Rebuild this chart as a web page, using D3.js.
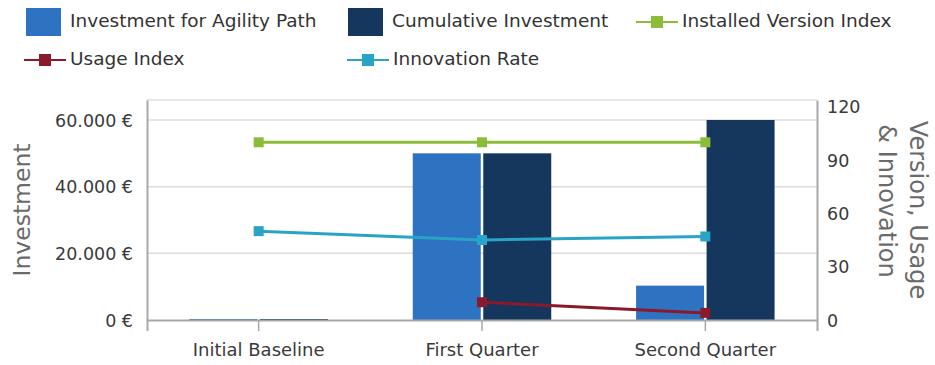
<!DOCTYPE html>
<html>
<head>
<meta charset="utf-8">
<script src="https://cdn.jsdelivr.net/npm/d3@7"></script>
<style>
  html, body { margin: 0; padding: 0; background: #fff; }
  svg { display: block; font-family: "DejaVu Sans", Verdana, sans-serif; }
</style>
</head>
<body>
<svg id="chart" width="935" height="365"></svg>
<script>
// Quarterly investment and index data
const categories = ["Initial Baseline", "First Quarter", "Second Quarter"];
const investmentAgility = [300, 50000, 10300];
const cumulativeInvestment = [300, 50000, 60000];
const installedVersionIndex = [100, 100, 100];
const usageIndex = [null, 10, 4];
const innovationRate = [50, 45, 47];
const leftTicks = [0, 20000, 40000, 60000];
const rightTicks = [0, 30, 60, 90, 120];

const colors = {
  agility: "#2e72c2",
  cumulative: "#15375e",
  version: "#8cbd3a",
  usage: "#8a1a2b",
  innovation: "#2aa4c6"
};

const svg = d3.select("#chart");
const margin = { left: 147, right: 118, top: 100, bottom: 45 };
const W = 935, H = 365;
const x0 = margin.left, x1 = W - margin.right;
const yBottom = H - margin.bottom, yTop = margin.top;

const x = d3.scaleBand().domain(categories).range([x0, x1]).padding(0);
const yL = d3.scaleLinear().domain([0, 66000]).range([yBottom, yTop]);
const yR = d3.scaleLinear().domain([0, 123.8]).range([yBottom, yTop]);

const euro = d => d3.format(",")(d).replace(/,/g, ".") + " €";

// gridlines
svg.append("g")
  .selectAll("line")
  .data(leftTicks.filter(t => t > 0))
  .join("line")
  .attr("x1", x0).attr("x2", x1)
  .attr("y1", d => yL(d)).attr("y2", d => yL(d))
  .attr("stroke", "#dcdcdc").attr("stroke-width", 1.5);

// top border
svg.append("line")
  .attr("x1", x0).attr("x2", x1).attr("y1", yTop).attr("y2", yTop)
  .attr("stroke", "#dedede").attr("stroke-width", 1.5);

// bars
const barW = 68, gap = 2.5;
const barGroups = svg.append("g");
categories.forEach((c, i) => {
  const cx = x(c) + x.bandwidth() / 2;
  barGroups.append("rect")
    .attr("x", cx - gap / 2 - barW)
    .attr("y", yL(investmentAgility[i]))
    .attr("width", barW)
    .attr("height", yL(0) - yL(investmentAgility[i]))
    .attr("fill", colors.agility);
  barGroups.append("rect")
    .attr("x", cx + gap / 2)
    .attr("y", yL(cumulativeInvestment[i]))
    .attr("width", barW)
    .attr("height", yL(0) - yL(cumulativeInvestment[i]))
    .attr("fill", colors.cumulative);
});

// axes
const axisColor = "#a8a8a8";
const textColor = "#3a3a3a";

const gL = svg.append("g").attr("transform", `translate(${x0},0)`)
  .call(d3.axisLeft(yL).tickValues(leftTicks).tickFormat(euro).tickSize(0).tickPadding(14));
const gR = svg.append("g").attr("transform", `translate(${x1},0)`)
  .call(d3.axisRight(yR).tickValues(rightTicks).tickSize(0).tickPadding(10));
const gB = svg.append("g").attr("transform", `translate(0,${yBottom})`)
  .call(d3.axisBottom(x).tickSize(11).tickPadding(14));

[gL, gR, gB].forEach(g => {
  g.select(".domain").attr("stroke", axisColor).attr("stroke-width", 2);
  g.selectAll(".tick line").attr("stroke", axisColor).attr("stroke-width", 1.5);
  g.selectAll(".tick text").attr("fill", textColor).style("font-size", "17.5px")
    .style("font-family", "'DejaVu Sans', Verdana, sans-serif");
});
gB.selectAll(".tick text").style("font-size", "18px").attr("dy", "0.6em");
gR.selectAll(".tick text").attr("dy", null).attr("dominant-baseline", "middle").attr("y", 1);
gL.selectAll(".tick text").attr("dy", null).attr("dominant-baseline", "middle").attr("y", 1);

// axis titles
svg.append("text")
  .attr("transform", `translate(30,${(yTop + yBottom) / 2}) rotate(-90)`)
  .attr("text-anchor", "middle")
  .attr("fill", "#6a6a6a").style("font-size", "23.5px")
  .text("Investment");
svg.append("text")
  .attr("transform", `translate(910,${(yTop + yBottom) / 2}) rotate(90)`)
  .attr("text-anchor", "middle")
  .attr("fill", "#6a6a6a").style("font-size", "24px")
  .text("Version, Usage");
svg.append("text")
  .attr("transform", `translate(879,${(yTop + yBottom) / 2 - 9}) rotate(90)`)
  .attr("text-anchor", "middle")
  .attr("fill", "#6a6a6a").style("font-size", "24px")
  .text("& Innovation");

// lines
const lineSeries = [
  { name: "Installed Version Index", values: installedVersionIndex, color: colors.version },
  { name: "Innovation Rate", values: innovationRate, color: colors.innovation },
  { name: "Usage Index", values: usageIndex, color: colors.usage }
];
const line = d3.line()
  .defined(d => d.v !== null)
  .x(d => x(d.c) + x.bandwidth() / 2)
  .y(d => yR(d.v));
lineSeries.forEach(s => {
  const pts = categories.map((c, i) => ({ c, v: s.values[i] }));
  svg.append("path")
    .datum(pts)
    .attr("d", line)
    .attr("fill", "none")
    .attr("stroke", s.color)
    .attr("stroke-width", 3);
  svg.append("g").selectAll("rect")
    .data(pts.filter(d => d.v !== null))
    .join("rect")
    .attr("x", d => x(d.c) + x.bandwidth() / 2 - 5)
    .attr("y", d => yR(d.v) - 5)
    .attr("width", 10).attr("height", 10)
    .attr("fill", s.color);
});

// legend
const legend = svg.append("g").style("font-size", "18.5px").attr("fill", "#333");
const legendItems = [
  { type: "box", label: "Investment for Agility Path", color: colors.agility, x: 26, y: 22 },
  { type: "box", label: "Cumulative Investment", color: colors.cumulative, x: 348, y: 22 },
  { type: "line", label: "Installed Version Index", color: colors.version, x: 636, y: 22 },
  { type: "line", label: "Usage Index", color: colors.usage, x: 24, y: 60 },
  { type: "line", label: "Innovation Rate", color: colors.innovation, x: 347, y: 60 }
];
legendItems.forEach(it => {
  const g = legend.append("g");
  let tx;
  if (it.type === "box") {
    g.append("rect").attr("x", it.x).attr("y", it.y - 14).attr("width", 35).attr("height", 28).attr("fill", it.color);
    tx = it.x + 44;
  } else {
    g.append("line").attr("x1", it.x).attr("x2", it.x + 42).attr("y1", it.y).attr("y2", it.y)
      .attr("stroke", it.color).attr("stroke-width", 2);
    g.append("rect").attr("x", it.x + 15).attr("y", it.y - 6).attr("width", 12).attr("height", 12).attr("fill", it.color);
    tx = it.x + 46;
  }
  g.append("text").attr("x", tx).attr("y", it.y).attr("dominant-baseline", "middle").text(it.label);
});
</script>
</body>
</html>
